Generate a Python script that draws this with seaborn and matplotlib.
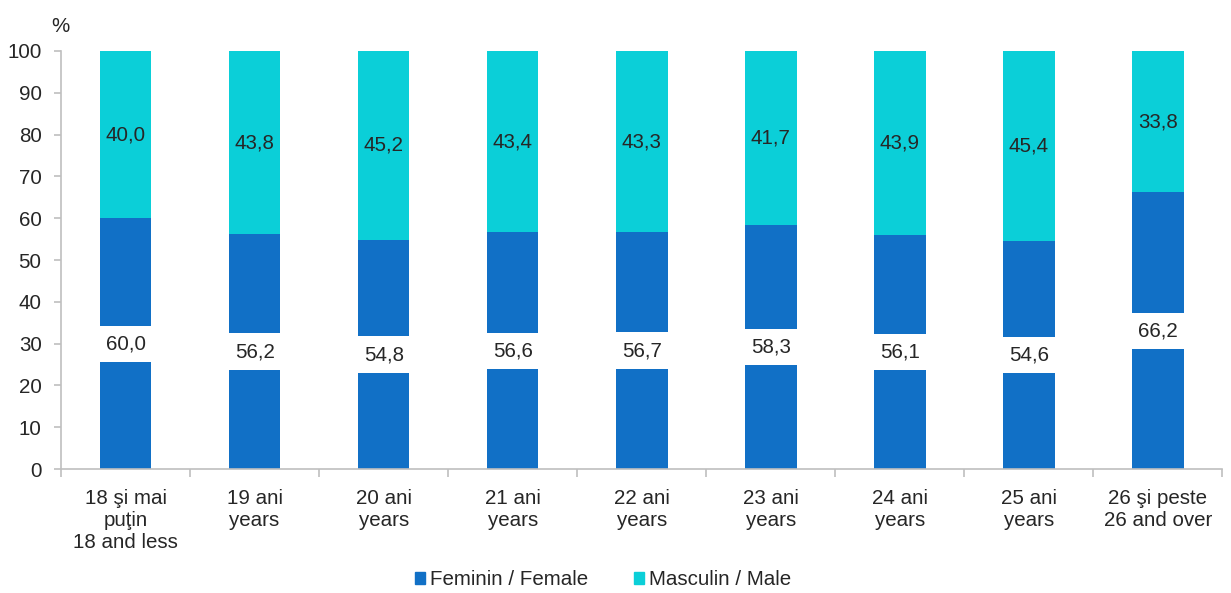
import matplotlib
matplotlib.use('Agg')
import numpy as np
import pandas as pd
import seaborn as sns
import matplotlib.pyplot as plt
from matplotlib.patches import Patch

CATEGORIES = [
    "18 şi mai\npuţin\n18 and less",
    "19 ani\nyears",
    "20 ani\nyears",
    "21 ani\nyears",
    "22 ani\nyears",
    "23 ani\nyears",
    "24 ani\nyears",
    "25 ani\nyears",
    "26 şi peste\n26 and over",
]
FEMALE = [60.0, 56.2, 54.8, 56.6, 56.7, 58.3, 56.1, 54.6, 66.2]
MALE = [40.0, 43.8, 45.2, 43.4, 43.3, 41.7, 43.9, 45.4, 33.8]

FEMALE_COLOR = '#1170C6'
MALE_COLOR = '#0BCFD8'
FS = 14.8

sns.set_style('white')
plt.rcParams['font.family'] = ['Liberation Sans', 'DejaVu Sans']
plt.rcParams['font.size'] = FS

df = pd.DataFrame({'cat': CATEGORIES, 'female': FEMALE, 'male': MALE})
df['total'] = df['female'] + df['male']

fig, ax = plt.subplots(figsize=(12.31, 5.93), dpi=100)
fig.subplots_adjust(left=0.0496, right=0.993, top=0.914, bottom=0.209)

sns.barplot(data=df, x='cat', y='total', color=MALE_COLOR, width=0.4,
            saturation=1, linewidth=0, ax=ax)
sns.barplot(data=df, x='cat', y='female', color=FEMALE_COLOR, width=0.4,
            saturation=1, linewidth=0, ax=ax)

def fmt(v):
    return '{:.1f}'.format(v).replace('.', ',')

for i, (f, m) in enumerate(zip(FEMALE, MALE)):
    ax.text(i, f / 2, fmt(f), ha='center', va='center', fontsize=FS,
            bbox=dict(boxstyle='square,pad=0.42', fc='white', ec='none'))
    ax.text(i, f + m / 2, fmt(m), ha='center', va='center', fontsize=FS)

ax.set_ylim(0, 100)
ax.set_xlim(-0.5, len(CATEGORIES) - 0.5)
ax.set_yticks(np.arange(0, 101, 10))
ax.set_xlabel('')
ax.set_ylabel('')
fig.text(0.042, 0.955, '%', fontsize=FS, ha='left', va='center')

for side in ['top', 'right']:
    ax.spines[side].set_visible(False)
for side in ['left', 'bottom']:
    ax.spines[side].set_color('#BFBFBF')
    ax.spines[side].set_linewidth(1.2)

ax.tick_params(axis='y', length=5, color='#BFBFBF', width=1.2, left=True, pad=9)
ax.tick_params(axis='x', which='major', length=0, pad=14)
ax.set_xticks(np.arange(len(CATEGORIES)))
ax.set_xticklabels(CATEGORIES, linespacing=1.2)
ax.set_xticks(np.arange(-0.5, len(CATEGORIES), 1), minor=True)
ax.tick_params(axis='x', which='minor', length=6, color='#BFBFBF', width=1.2, bottom=True)

handles = [Patch(color=FEMALE_COLOR, label='Feminin / Female'),
           Patch(color=MALE_COLOR, label='Masculin / Male')]
fig.legend(handles=handles, loc='center', bbox_to_anchor=(0.49, 0.022),
           ncol=2, frameon=False, fontsize=FS, handlelength=0.5,
           handleheight=0.5, handletextpad=0.25, columnspacing=2.2)

plt.savefig('out.png', dpi=100)
